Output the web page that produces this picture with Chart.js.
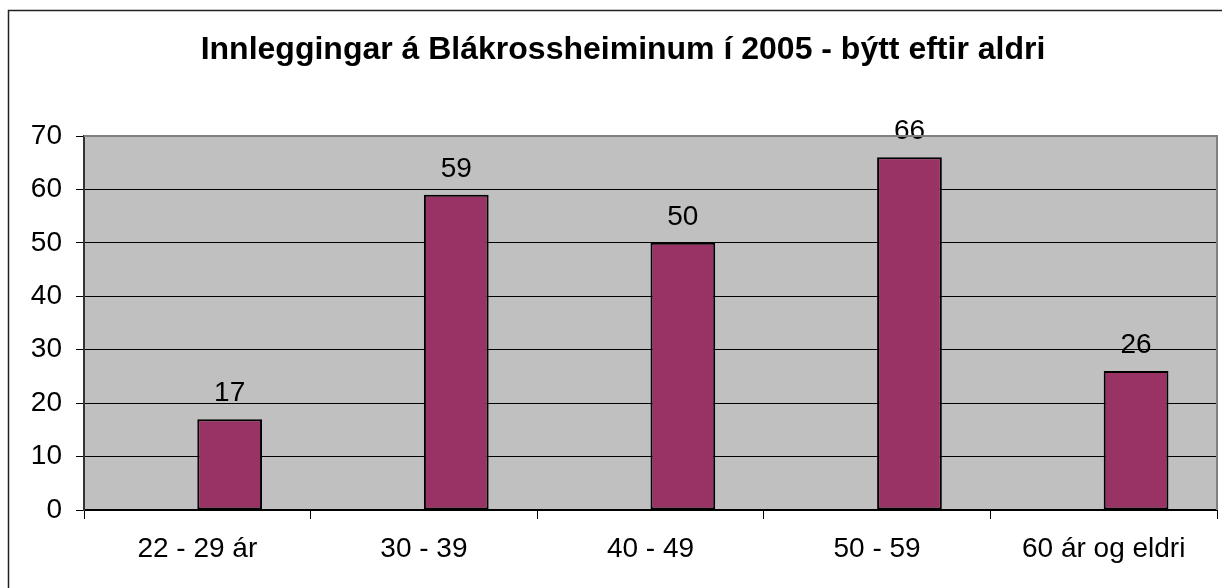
<!DOCTYPE html>
<html>
<head>
<meta charset="utf-8">
<script src="https://cdn.jsdelivr.net/npm/chart.js@4"></script>
<style>
  body { margin: 0; background: #fff; }
  canvas { display: block; }
</style>
</head>
<body>
<canvas id="chart" width="1222" height="588"></canvas>
<script>
// gögn
const ageGroups = ['22 - 29 ár', '30 - 39', '40 - 49', '50 - 59', '60 ár og eldri'];
const emptySeries = [null, null, null, null, null];
const admissions = [17, 59, 50, 66, 26];
const chartTitle = 'Innleggingar á Blákrossheiminum í 2005 - býtt eftir aldri';

const FONT = '"Liberation Sans", Arial, sans-serif';

// grár bakgrunnur, ytri rammi og heiti
const backdrop = {
    id: 'backdrop',
    beforeDraw(chart) {
        const ctx = chart.ctx;
        const a = chart.chartArea;
        ctx.save();
        ctx.fillStyle = '#fff';
        ctx.fillRect(0, 0, chart.width, chart.height);
        ctx.strokeStyle = '#222';
        ctx.lineWidth = 1.5;
        ctx.strokeRect(8.5, 10.5, 2000, 2000);
        ctx.fillStyle = '#c0c0c0';
        ctx.fillRect(a.left, a.top, a.right - a.left, a.bottom - a.top);
        ctx.font = 'bold 32px ' + FONT;
        ctx.fillStyle = '#000';
        ctx.textAlign = 'center';
        ctx.textBaseline = 'middle';
        ctx.fillText(chartTitle, 623, 50);
        ctx.restore();
    },
    afterDraw(chart) {
        const ctx = chart.ctx;
        const a = chart.chartArea;
        ctx.save();
        ctx.strokeStyle = '#808080';
        ctx.lineWidth = 2;
        ctx.beginPath();
        ctx.moveTo(a.left, a.top);
        ctx.lineTo(a.right, a.top);
        ctx.lineTo(a.right, a.bottom);
        ctx.stroke();
        ctx.restore();
    }
};

// tölur yvir súlunum
const valueLabels = {
    id: 'valueLabels',
    afterDatasetsDraw(chart) {
        const ctx = chart.ctx;
        const meta = chart.getDatasetMeta(1);
        ctx.save();
        ctx.font = '28px ' + FONT;
        ctx.fillStyle = '#000';
        ctx.textAlign = 'center';
        ctx.textBaseline = 'alphabetic';
        meta.data.forEach((bar, i) => {
            ctx.fillText(String(admissions[i]), bar.x, bar.y - 18);
        });
        ctx.restore();
    }
};

new Chart(document.getElementById('chart'), {
    type: 'bar',
    data: {
        labels: ageGroups,
        datasets: [
            { data: emptySeries, backgroundColor: '#993366' },
            {
                data: admissions,
                backgroundColor: '#993366',
                borderColor: '#000',
                borderWidth: 2,
                borderSkipped: false
            }
        ]
    },
    options: {
        responsive: false,
        animation: false,
        events: [],
        categoryPercentage: 2 / 3.5,
        barPercentage: 1,
        layout: { padding: { left: 0, right: 5, top: 136, bottom: 0 } },
        plugins: {
            legend: { display: false },
            tooltip: { enabled: false },
            title: { display: false }
        },
        scales: {
            x: {
                afterFit(s) { s.height = 78; },
                grid: {
                    offset: true,
                    drawOnChartArea: false,
                    drawTicks: true,
                    tickLength: 9,
                    tickColor: '#000',
                    tickWidth: 1
                },
                border: { color: '#000', width: 2 },
                ticks: {
                    color: '#000',
                    padding: 13,
                    maxRotation: 0,
                    font: { family: FONT, size: 28 }
                }
            },
            y: {
                min: 0,
                max: 70,
                afterFit(s) { s.width = 84; },
                grid: {
                    color: ctx => ctx.tick && ctx.tick.value === 70 ? '#808080' : '#000',
                    lineWidth: 1,
                    tickLength: 8,
                    tickColor: '#000'
                },
                border: { color: '#333', width: 2 },
                ticks: {
                    stepSize: 10,
                    color: '#000',
                    padding: 14,
                    font: { family: FONT, size: 28 }
                }
            }
        }
    },
    plugins: [backdrop, valueLabels]
});
</script>
</body>
</html>
